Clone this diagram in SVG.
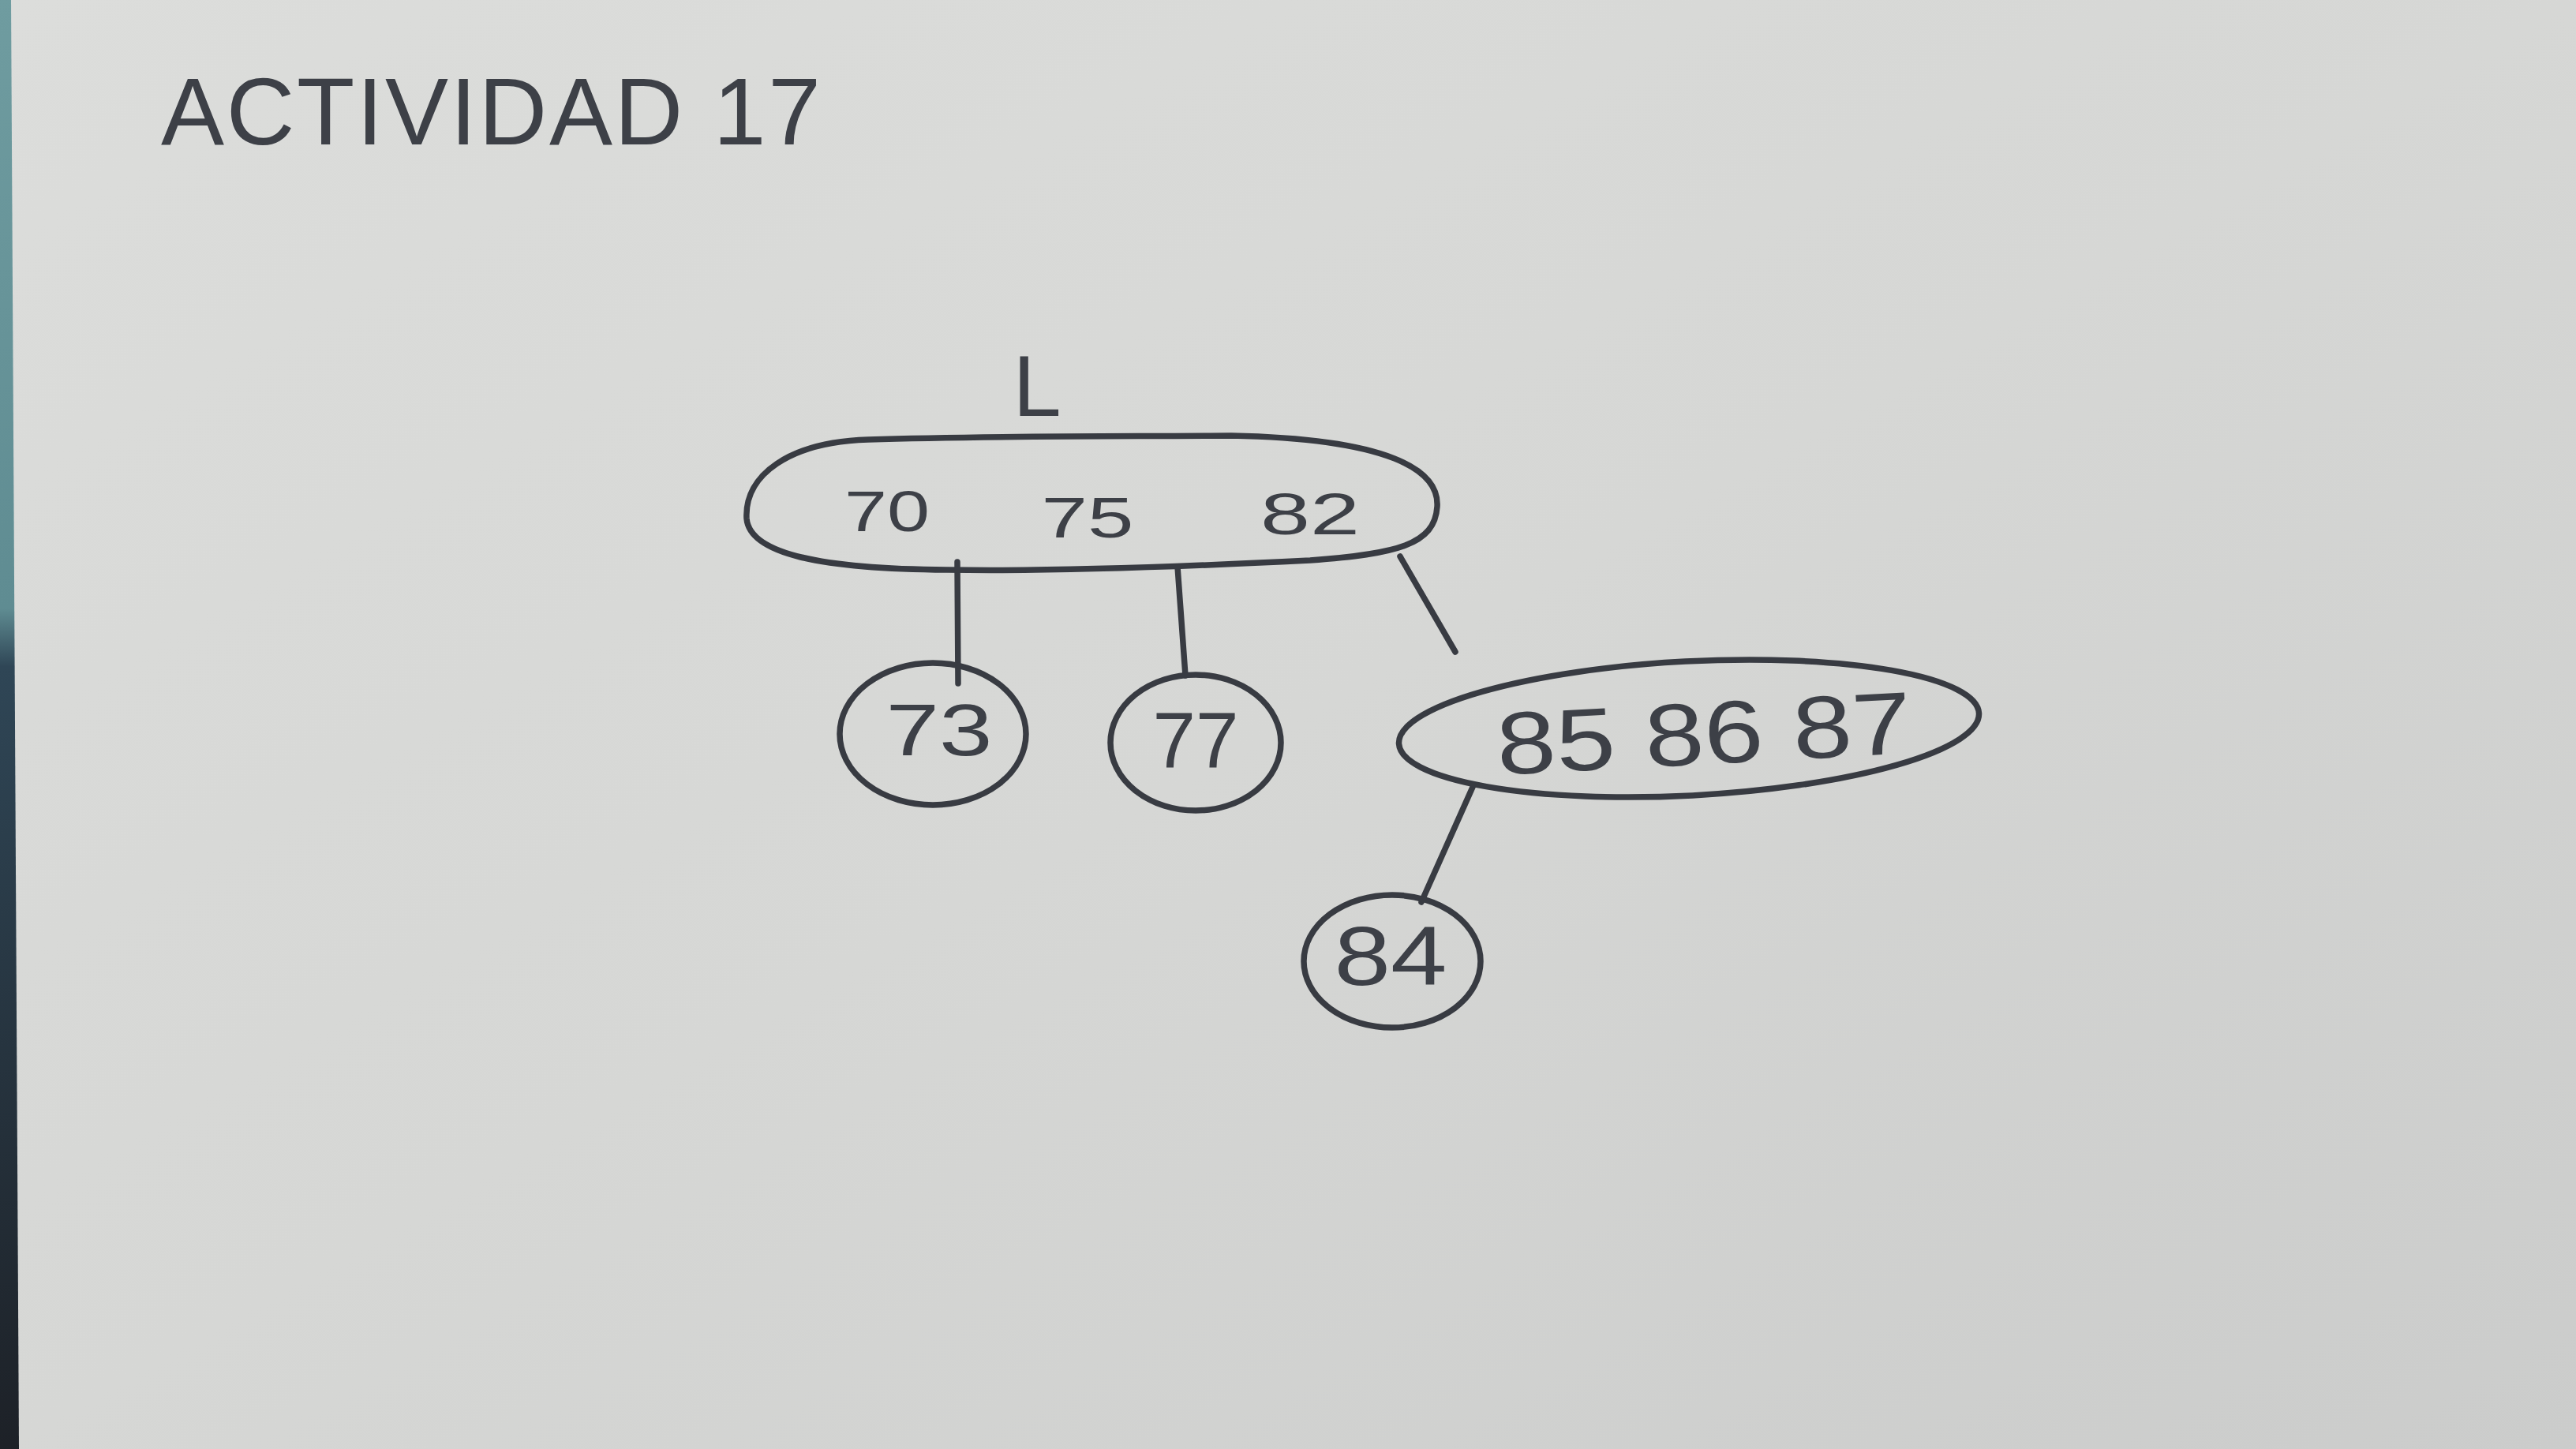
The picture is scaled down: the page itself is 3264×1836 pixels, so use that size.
<svg xmlns="http://www.w3.org/2000/svg" width="3264" height="1836" viewBox="0 0 3264 1836">
<defs>
<linearGradient id="paper" x1="0" y1="0" x2="1" y2="1">
<stop offset="0" stop-color="#dcdddb"/>
<stop offset="0.5" stop-color="#d6d7d5"/>
<stop offset="1" stop-color="#cbcccb"/>
</linearGradient>
<linearGradient id="edge" x1="0" y1="0" x2="0" y2="1">
<stop offset="0" stop-color="#6f9ca0"/>
<stop offset="0.42" stop-color="#5f8c92"/>
<stop offset="0.46" stop-color="#2f4656"/>
<stop offset="1" stop-color="#1d2127"/>
</linearGradient>
<style>
.ink{fill:none;stroke:#383b42;stroke-width:7.5;stroke-linecap:round;stroke-linejoin:round}
.txt{font-family:"Liberation Sans",Arial,sans-serif;fill:#3d4047;text-anchor:middle}
</style>
</defs>
<rect width="3264" height="1836" fill="url(#paper)"/>
<polygon points="0,0 14,0 24,1836 0,1836" fill="url(#edge)"/>

<g id="title">
<text class="txt" x="204" y="183" font-size="120" style="text-anchor:start" textLength="836" lengthAdjust="spacing">ACTIVIDAD 17</text>
</g>

<g id="label-L">
<text class="txt" x="1314" y="527" font-size="110">L</text>
</g>

<g id="connectors">
<line class="ink" x1="1213" y1="712" x2="1214" y2="866"/>
<line class="ink" x1="1492" y1="718" x2="1502" y2="856"/>
<line class="ink" x1="1774" y1="705" x2="1844" y2="826"/>
<line class="ink" x1="1867" y1="995" x2="1801" y2="1143"/>
</g>

<g id="node-root">
<path class="ink" d="M1100,557 C1250,552 1400,553 1560,552 C1760,556 1824,595 1821,642 C1818,690 1770,702 1660,710 C1500,718 1320,724 1200,722 C1040,721 950,702 946,657 C943,602 1000,560 1100,557 Z"/>
<text class="txt" x="1124" y="673" font-size="72" textLength="108" lengthAdjust="spacingAndGlyphs">70</text>
<text class="txt" x="1378" y="681" font-size="72" textLength="117" lengthAdjust="spacingAndGlyphs">75</text>
<text class="txt" x="1660" y="677" font-size="74" textLength="126" lengthAdjust="spacingAndGlyphs">82</text>
</g>

<g id="node-73">
<ellipse class="ink" cx="1182" cy="930" rx="118" ry="90"/>
<text class="txt" x="1190" y="957" font-size="92" textLength="135" lengthAdjust="spacingAndGlyphs">73</text>
</g>

<g id="node-77">
<ellipse class="ink" cx="1515" cy="941" rx="108" ry="86"/>
<text class="txt" x="1515" y="973" font-size="100" textLength="109" lengthAdjust="spacingAndGlyphs">77</text>
</g>

<g id="node-85-86-87">
<ellipse class="ink" cx="2140" cy="923" rx="368" ry="85" transform="rotate(-3 2140 923)"/>
<text class="txt" x="2159" y="968" font-size="112" textLength="526" lengthAdjust="spacingAndGlyphs" transform="rotate(-3 2159 930)">85 86 87</text>
</g>

<g id="node-84">
<ellipse class="ink" cx="1764" cy="1218" rx="112" ry="84"/>
<text class="txt" x="1762" y="1248" font-size="106" textLength="143" lengthAdjust="spacingAndGlyphs">84</text>
</g>
</svg>
